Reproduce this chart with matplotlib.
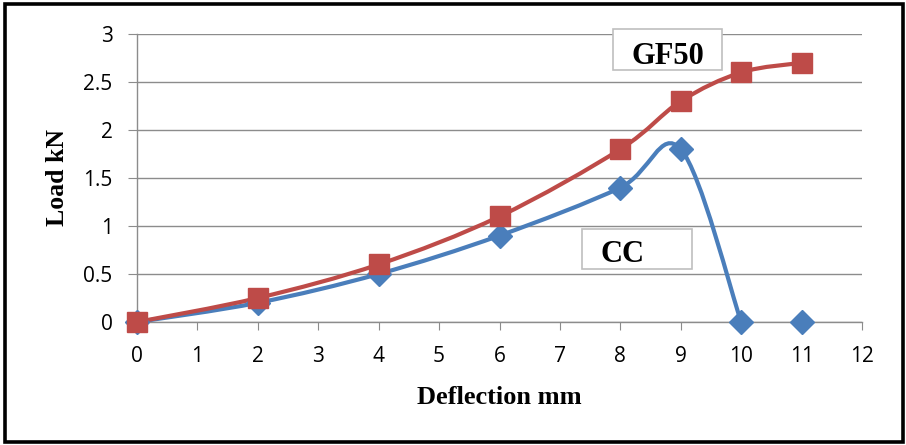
import matplotlib
matplotlib.use("Agg")
import matplotlib.pyplot as plt
from matplotlib.path import Path
from matplotlib.patches import PathPatch, Rectangle

# deflection (mm) vs load (kN)
cc_defl = [0, 2, 4, 6, 8, 9, 10]
cc_load = [0, 0.2, 0.5, 0.9, 1.4, 1.8, 0]
cc_extra_defl = [11]
cc_extra_load = [0]

gf_defl = [0, 2, 4, 6, 8, 9, 10, 11]
gf_load = [0, 0.25, 0.6, 1.1, 1.8, 2.3, 2.6, 2.7]

BLUE = "#4A7EBB"
RED = "#BE4B48"
GRID = "#8C8C8C"
SERIF = "Liberation Serif"
SANS = "Open Sans"


def smooth_path(xs, ys):
    # Catmull-Rom style cubic bezier through every point
    pts = list(zip(xs, ys))
    n = len(pts)
    verts = [pts[0]]
    codes = [Path.MOVETO]
    for i in range(n - 1):
        p0 = pts[i - 1] if i > 0 else pts[i]
        p1 = pts[i]
        p2 = pts[i + 1]
        p3 = pts[i + 2] if i + 2 < n else pts[i + 1]
        c1 = (p1[0] + (p2[0] - p0[0]) / 6, p1[1] + (p2[1] - p0[1]) / 6)
        c2 = (p2[0] - (p3[0] - p1[0]) / 6, p2[1] - (p3[1] - p1[1]) / 6)
        verts += [c1, c2, p2]
        codes += [Path.CURVE4] * 3
    return Path(verts, codes)


fig = plt.figure(figsize=(9.06, 4.45), dpi=100)
ax = fig.add_axes([137 / 906, 1 - 322 / 445, 725 / 906, 288 / 445])

ax.set_xlim(0, 12)
ax.set_ylim(0, 3)
ax.set_xticks(range(0, 13))
ax.set_yticks([0, 0.5, 1, 1.5, 2, 2.5, 3])
ax.set_yticklabels(["0", "0.5", "1", "1.5", "2", "2.5", "3"])

for s in ["top", "right"]:
    ax.spines[s].set_visible(False)
for s in ["left", "bottom"]:
    ax.spines[s].set_color(GRID)
    ax.spines[s].set_linewidth(1.0)

ax.grid(axis="y", color=GRID, linewidth=1.0)
ax.set_axisbelow(True)
ax.tick_params(axis="y", length=6.5, color=GRID, pad=11, labelsize=15)
ax.tick_params(axis="x", length=6, color=GRID, pad=11, labelsize=15)
for lab in ax.get_xticklabels() + ax.get_yticklabels():
    lab.set_fontfamily(SANS)

ax.add_patch(PathPatch(smooth_path(cc_defl, cc_load), fill=False,
                       edgecolor=BLUE, linewidth=3.0, capstyle="round",
                       zorder=3, clip_on=False))
ax.add_patch(PathPatch(smooth_path(gf_defl, gf_load), fill=False,
                       edgecolor=RED, linewidth=3.0, capstyle="round",
                       zorder=4, clip_on=False))

ax.plot(cc_defl + cc_extra_defl, cc_load + cc_extra_load, linestyle="none",
        marker="D", markersize=12, color=BLUE, zorder=5, clip_on=False)
ax.plot(gf_defl, gf_load, linestyle="none", marker="s", markersize=14,
        color=RED, zorder=6, clip_on=False)

ax.set_xlabel("Deflection mm", fontfamily=SERIF, fontweight="bold",
              fontsize=19, labelpad=14)
ax.set_ylabel("Load kN", fontfamily=SERIF, fontweight="bold",
              fontsize=18.5, labelpad=10)

# series name boxes
fig.add_artist(Rectangle((613 / 906, 1 - 70 / 445), 109 / 906, 41 / 445,
                         transform=fig.transFigure, facecolor="white",
                         edgecolor="#BFBFBF", linewidth=1.2, zorder=7))
fig.text(668 / 906, 1 - 56 / 445, "GF50", fontfamily=SERIF, fontweight="bold",
         fontsize=22, ha="center", va="center", zorder=8)
fig.add_artist(Rectangle((582 / 906, 1 - 269 / 445), 110 / 906, 40 / 445,
                         transform=fig.transFigure, facecolor="white",
                         edgecolor="#BFBFBF", linewidth=1.2, zorder=7))
fig.text(623 / 906, 1 - 254 / 445, "CC", fontfamily=SERIF, fontweight="bold",
         fontsize=22, ha="center", va="center", zorder=8)

# outer frame
fig.add_artist(Rectangle((5 / 906, 3 / 445), 898 / 906, 438 / 445,
                         transform=fig.transFigure, fill=False,
                         edgecolor="black", linewidth=2.6))

fig.savefig("out.png", dpi=100)
